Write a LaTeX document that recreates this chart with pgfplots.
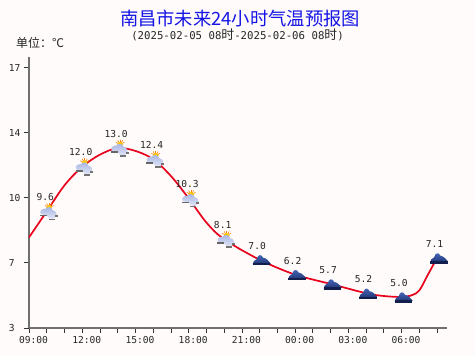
\documentclass[border=0pt]{standalone}
\usepackage{fontspec}
\usepackage{pgfplots}
\usepackage{pgfplotstable}
\pgfplotsset{compat=1.18}
\setmainfont{DejaVu Sans Mono}
\newfontfamily\cjk{Noto Sans CJK SC}
\definecolor{bgc}{HTML}{FFFBFA}
\definecolor{axc}{HTML}{707070}
\definecolor{linec}{HTML}{E8001C}
\definecolor{titlec}{HTML}{1414E6}
\definecolor{cloudtop}{HTML}{A6B4E2}
\definecolor{cloudbot}{HTML}{E6EAF8}
\definecolor{dcloudtop}{HTML}{4A6CC0}
\definecolor{dcloudbot}{HTML}{1E3472}
\definecolor{dcloudbase}{HTML}{121E4C}
\pgfdeclareplotmark{suncloud}{%
  \foreach \a in {30,60,90,120,150}{\draw[orange,line width=0.6pt] (2.5pt,3.5pt)++(\a:2pt) -- ++(\a:3pt);}
  \fill[yellow!60!orange] (2.5pt,3.5pt) circle (2.6pt);
  \shade[top color=cloudtop,bottom color=cloudbot,draw=none]
    (-6pt,-2.5pt) .. controls (-8pt,0.5pt) and (-4pt,3pt) .. (-1.5pt,2.5pt)
    .. controls (0pt,5pt) and (5.5pt,5pt) .. (6pt,1pt)
    .. controls (9.5pt,1pt) and (11pt,-3.5pt) .. (9pt,-5pt)
    .. controls (7.5pt,-8.5pt) and (1.5pt,-8.5pt) .. (0.5pt,-4.5pt)
    -- (-3pt,-3.5pt) -- cycle;
  \fill[black!60] (-6.5pt,-4pt) rectangle (-0.5pt,-3.4pt);
  \fill[black!55] (2pt,-8pt) rectangle (7pt,-7.4pt);
  \fill[black!55] (8pt,-5pt) rectangle (10pt,-4.3pt);
}
\pgfdeclareplotmark{darkcloud}{%
  \shade[top color=dcloudtop,bottom color=dcloudbot,draw=none]
    (-7pt,-4.5pt) .. controls (-7pt,-2pt) and (-5pt,-0.5pt) .. (-3pt,0.5pt)
    .. controls (-1.5pt,5.5pt) and (1.5pt,6pt) .. (3.5pt,2pt)
    .. controls (6pt,2pt) and (9pt,-1pt) .. (11pt,-3.5pt)
    .. controls (11pt,-4.5pt) and (10pt,-4.8pt) .. (9pt,-4.8pt) -- cycle;
  \fill[dcloudbase] (-6.5pt,-4.9pt) rectangle (10pt,-3.7pt);
}
\pgfplotstableread{
t v
0 8.2
1 9.6
2 11.0
3 12.0
4 12.65
5 13.0
6 12.85
7 12.4
8 11.5
9 10.3
10 9.0
11 8.1
13 7.0
15 6.2
17 5.7
19 5.2
20 5.05
21 5.0
21.6 5.1
22 5.35
22.43 6.1
23 7.1
}\curvedata
\pgfplotstableread{
t v lab
1 9.6 9.6
3 12.0 12.0
5 13.0 13.0
7 12.4 12.4
9 10.3 10.3
11 8.1 8.1
}\sundata
\pgfplotstableread{
t v lab
13 7.0 7.0
15 6.2 6.2
17 5.7 5.7
19 5.2 5.2
21 5.0 5.0
23 7.1 7.1
}\clouddata
\begin{document}
\begin{tikzpicture}[x=1pt,y=1pt]
\path[use as bounding box,fill=bgc] (0,0) rectangle (475,356);
\node[text=titlec,font=\cjk\fontsize{18.3}{18.3}\selectfont,anchor=center,inner sep=0pt] at (240,338) {南昌市未来24小时气温预报图};
\node[anchor=center,inner sep=0pt,text=black!85,font=\fontsize{10.7}{12}\selectfont] at (237.5,321.5) {(2025-02-05 08{\cjk\fontsize{12.8}{12}\selectfont 时}-2025-02-06 08{\cjk\fontsize{12.8}{12}\selectfont 时})};
\node[anchor=west,inner sep=0pt,text=black!85,font=\cjk\fontsize{12}{12}\selectfont] at (16,313) {单位：℃};
\begin{axis}[
  at={(29pt,28pt)},anchor=origin,
  scale only axis,width=418pt,height=271pt,
  xmin=0,xmax=23.56,ymin=3.33,ymax=17.9,
  axis x line*=bottom,axis y line*=left,
  x axis line style={draw=axc,line width=1.6pt,-},
  y axis line style={draw=axc,line width=2.2pt,-},
  every outer x axis line/.append style={draw=axc,line width=1.6pt,-},
  every outer y axis line/.append style={draw=axc,line width=2.2pt,-},
  xtick={0,...,23},
  xticklabels={09:00,,,12:00,,,15:00,,,18:00,,,21:00,,,00:00,,,03:00,,,06:00,,},
  ytick={3.33,6.83,10.33,13.83,17.33},
  yticklabels={3,7,10,14,17},
  tick style={black!80,line width=0.8pt},
  major tick length=5pt,
  tick align=outside,
  xtick pos=bottom,ytick pos=left,
  xticklabel style={font=\fontsize{9.6}{10}\selectfont,text=black!85,xshift=4.5pt,yshift=-1pt,inner sep=2pt},
  yticklabel style={font=\fontsize{9.6}{10}\selectfont,text=black!85,anchor=east,text width=12pt,align=left,inner sep=0pt,xshift=-3pt},
  clip=false,
]
\addplot[linec,line width=1.7pt,smooth,tension=0.55,no markers] table[x=t,y=v] {\curvedata};
\addplot[only marks,mark=suncloud,
  nodes near coords={\pgfplotspointmeta},point meta=explicit symbolic,
  every node near coord/.append style={anchor=center,xshift=-1.5pt,yshift=14.5pt,inner sep=0pt,font=\fontsize{9.6}{10}\selectfont,text=black!85}]
  table[x=t,y=v,meta=lab] {\sundata};
\addplot[only marks,mark=darkcloud,
  nodes near coords={\pgfplotspointmeta},point meta=explicit symbolic,
  every node near coord/.append style={anchor=center,xshift=-2.5pt,yshift=14pt,inner sep=0pt,font=\fontsize{9.6}{10}\selectfont,text=black!85}]
  table[x=t,y=v,meta=lab] {\clouddata};
\end{axis}
\end{tikzpicture}
\end{document}
